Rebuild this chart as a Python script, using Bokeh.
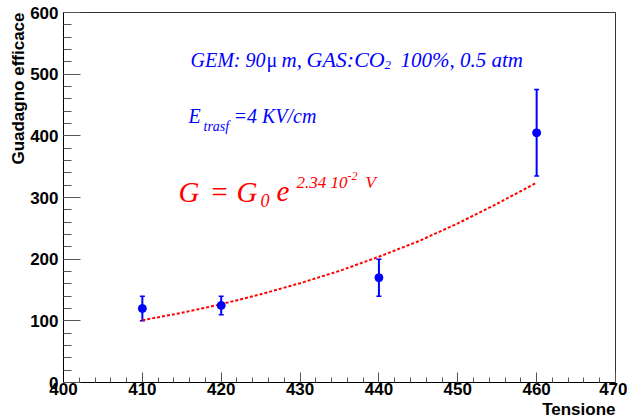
from bokeh.plotting import figure
from bokeh.models import (ColumnDataSource, Range1d, SingleIntervalTicker, Whisker,
                          TeeHead, Label, Title)
from bokeh.embed import file_html
from bokeh.resources import INLINE

# ---- data ----
tensione = [410, 420, 440, 460]
guadagno = [120, 125, 170, 405]
errore = [20, 15, 30, 70]

# dotted exponential fit G = G0 exp(2.34e-2 V)
fit_v = [410, 415, 420, 425, 430, 435, 440, 445, 450, 455, 460]
fit_g = [101, 113, 127, 143, 161, 181, 204, 229, 258, 290, 324]

x_ticks_interval = 10
y_ticks_interval = 100

# ---- layout (frame 63..615 x 12..382 px) ----
W, H = 627, 420
FL, FR, FT, FB = 63, 615, 12, 382
X0, X1, Y0, Y1 = 400, 470, 0, 600


def X(px):
    return X0 + (px - FL) * (X1 - X0) / (FR - FL)


def Y(py):
    return Y0 + (FB - py) * (Y1 - Y0) / (FB - FT)


p = figure(width=W, height=H, output_backend="svg", toolbar_location=None,
           x_range=Range1d(X0, X1), y_range=Range1d(Y0, Y1),
           min_border_left=FL, min_border_right=W - FR,
           min_border_top=FT, min_border_bottom=H - FB)
p.background_fill_color = "white"
p.border_fill_color = "white"
p.outline_line_color = "#333333"
p.outline_line_width = 1
p.xgrid.visible = False
p.ygrid.visible = False

p.xaxis.ticker = SingleIntervalTicker(interval=x_ticks_interval, num_minor_ticks=5)
p.yaxis.ticker = SingleIntervalTicker(interval=y_ticks_interval, num_minor_ticks=5)

for ax in (p.xaxis, p.yaxis):
    ax.axis_line_color = "black"
    ax.axis_line_width = 1
    ax.major_tick_out = 0
    ax.minor_tick_out = 0
    ax.major_tick_line_color = "#555555"
    ax.minor_tick_line_color = "#555555"
    ax.major_tick_line_width = 1
    ax.minor_tick_line_width = 1
    ax.major_label_text_font = "Liberation Sans"
    ax.major_label_text_font_style = "bold"
    ax.major_label_text_font_size = "17px"
    ax.major_label_text_color = "black"

p.xaxis.major_tick_in = 10
p.xaxis.minor_tick_in = 5
p.xaxis.major_label_standoff = 0
p.yaxis.major_tick_in = 17
p.yaxis.minor_tick_in = 8
p.yaxis.major_label_standoff = 5

# axis titles (ROOT style: at the far ends of the axes)
p.add_layout(Title(text="Tensione", align="right", text_font="Liberation Sans",
                   text_font_style="bold", text_font_size="17px",
                   text_color="black", standoff=0), "below")
p.add_layout(Title(text="Guadagno efficace", align="right", text_font="Liberation Sans",
                   text_font_style="bold", text_font_size="17px",
                   text_color="black", standoff=0), "left")

# fit curve
p.line(fit_v, fit_g, line_color="red", line_width=2, line_dash="3 2")

# error bars and points
src = ColumnDataSource(dict(
    x=tensione, y=guadagno,
    lo=[g - e for g, e in zip(guadagno, errore)],
    hi=[g + e for g, e in zip(guadagno, errore)],
))
wh = Whisker(base="x", lower="lo", upper="hi", source=src, dimension="height",
             line_color="blue", line_width=2,
             upper_head=TeeHead(size=5, line_color="blue", line_width=1.5),
             lower_head=TeeHead(size=5, line_color="blue", line_width=1.5))
p.add_layout(wh)
p.scatter("x", "y", source=src, size=8, color="blue")


def lab(text, px, py, size, color, font="Liberation Serif", style="italic"):
    p.add_layout(Label(x=X(px), y=Y(py), text=text, text_font=font,
                       text_font_style=style, text_font_size=f"{size}px",
                       text_color=color, text_align="left",
                       text_baseline="alphabetic"))


# annotation 1
lab("GEM: 90", 190, 59, 20, "blue")
lab("\u03bc", 266, 59, 20, "blue", style="normal")
lab("m,", 281, 59, 21, "blue")
lab("GAS:CO", 306, 59, 22, "blue")
lab("2", 384, 64, 13, "blue")
lab("100%, 0.5 atm", 400, 59, 21, "blue")

# annotation 2
lab("E", 188, 115, 20, "blue")
lab("trasf", 203, 126, 14, "blue")
lab("=4 KV/cm", 233, 115, 20, "blue")

# annotation 3 (fit formula)
lab("G", 178, 191, 29, "red")
lab("=", 209, 191, 29, "red")
lab("G", 236, 191, 29, "red")
lab("0", 260, 200, 18, "red")
lab("e", 276, 191, 29, "red")
lab("2.34 10", 296, 182, 17, "red")
lab("-2", 347, 175, 12, "red")
lab("V", 365, 182, 17, "red")

open("out.html", "w").write(file_html(p, INLINE))
